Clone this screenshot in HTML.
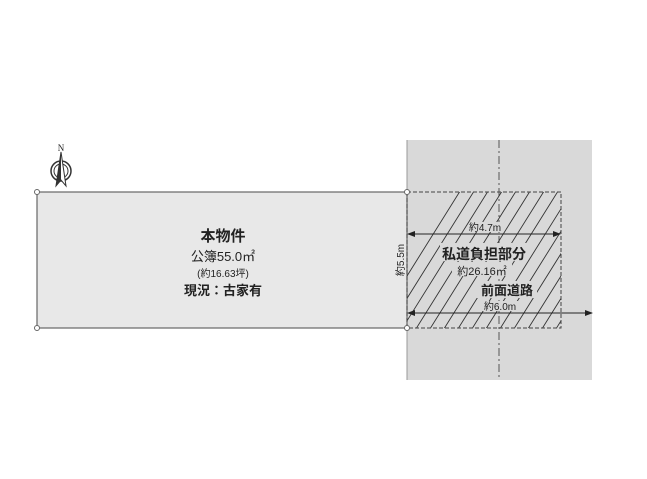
<!DOCTYPE html>
<html><head><meta charset="utf-8"><style>
body{margin:0;background:#fff;width:647px;height:474px;overflow:hidden}
text{font-family:"Liberation Sans","Noto Sans CJK JP",sans-serif;fill:#222}
</style></head><body>
<svg width="647" height="474" viewBox="0 0 647 474">
<defs>
<clipPath id="c"><rect x="407" y="192" width="154" height="136"/></clipPath>
<marker id="a" markerWidth="8" markerHeight="6" refX="7" refY="3" orient="auto"><path d="M0,0L8,3L0,6z" fill="#222"/></marker>
<marker id="b" markerWidth="8" markerHeight="6" refX="1" refY="3" orient="auto"><path d="M8,0L0,3L8,6z" fill="#222"/></marker>
</defs>
<rect x="407" y="140" width="185" height="240" fill="#d9d9d9"/>
<line x1="407" y1="140" x2="407" y2="380" stroke="#999" stroke-width="1"/>
<line x1="499" y1="140" x2="499" y2="380" stroke="#555" stroke-width="1" stroke-dasharray="8,3,2,3"/>
<rect x="37" y="192" width="370" height="136" fill="#e8e8e8" stroke="#666" stroke-width="1.2"/>
<g clip-path="url(#c)" stroke="#333" stroke-width="0.9">
<path d="M367,340L467,180M381,340L481,180M395,340L495,180M409,340L509,180M423,340L523,180M437,340L537,180M451,340L551,180M465,340L565,180M479,340L579,180M493,340L593,180M507,340L607,180M521,340L621,180M535,340L635,180M549,340L649,180"/>
</g>
<rect x="407" y="192" width="154" height="136" fill="none" stroke="#444" stroke-dasharray="4,2"/>
<rect x="470" y="222" width="30" height="10" fill="#d9d9d9"/>
<rect x="440" y="243" width="88" height="18" fill="#d9d9d9"/>
<rect x="452" y="262" width="60" height="14" fill="#d9d9d9"/>
<rect x="475" y="281" width="62" height="17" fill="#d9d9d9"/>
<rect x="480" y="301" width="40" height="10" fill="#d9d9d9"/>
<line x1="408" y1="234" x2="560" y2="234" stroke="#222" marker-start="url(#b)" marker-end="url(#a)"/>
<line x1="408" y1="313" x2="592" y2="313" stroke="#222" marker-start="url(#b)" marker-end="url(#a)"/>
<circle cx="37" cy="192" r="2.5" fill="#fff" stroke="#666"/>
<circle cx="37" cy="328" r="2.5" fill="#fff" stroke="#666"/>
<circle cx="407" cy="192" r="2.5" fill="#fff" stroke="#666"/>
<circle cx="407" cy="328" r="2.5" fill="#fff" stroke="#666"/>
<g stroke="#333" fill="none"><circle cx="61" cy="171" r="10" stroke-width="1.5"/><circle cx="61" cy="171" r="7"/></g>
<path d="M61,152L56,186L61,180L66,186z" fill="#fff" stroke="#333"/>
<path d="M61,152L61,180L56,186z" fill="#333"/>
<text x="61" y="151" font-size="9" text-anchor="middle" style="font-family:'Liberation Serif',serif">N</text>
<g text-anchor="middle" font-weight="bold">
<text x="223" y="241" font-size="15">本物件</text>
<text x="223" y="261" font-size="13" font-weight="normal">公簿55.0㎡</text>
<text x="223" y="277" font-size="10" font-weight="normal">(約16.63坪)</text>
<text x="223" y="295" font-size="13">現況：古家有</text>
<text x="485" y="231" font-size="10" font-weight="normal">約4.7m</text>
<text x="484" y="259" font-size="14">私道負担部分</text>
<text x="482" y="275" font-size="11" font-weight="normal">約26.16㎡</text>
<text x="507" y="295" font-size="13">前面道路</text>
<text x="500" y="310" font-size="10" font-weight="normal">約6.0m</text>
<text transform="translate(404,260) rotate(-90)" font-size="10" font-weight="normal">約5.5m</text>
</g>
</svg>
</body></html>
